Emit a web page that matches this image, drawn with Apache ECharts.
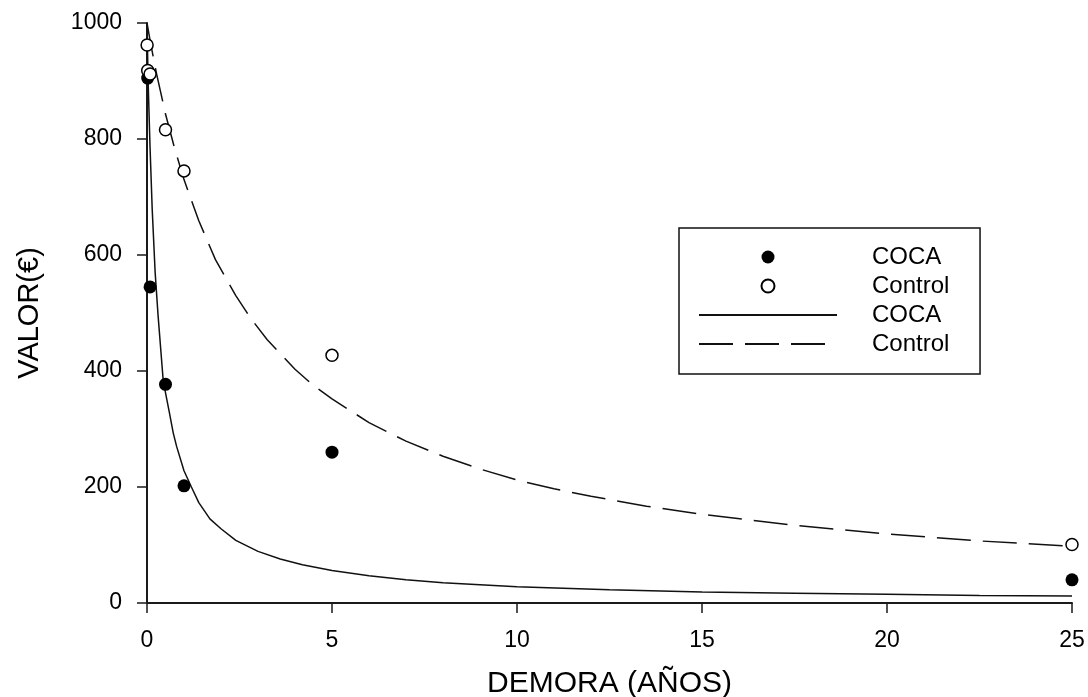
<!DOCTYPE html>
<html>
<head>
<meta charset="utf-8">
<title>Valor vs demora</title>
<script src="https://cdn.jsdelivr.net/npm/echarts@6/dist/echarts.min.js"></script>
<style>
  html, body { margin: 0; padding: 0; background: #fff; }
  #chart { width: 1088px; height: 697px; }
</style>
</head>
<body>
<div id="chart"></div>
<script>
// observed points (delay in years, value in euros)
const cocaX = [0.019, 0.083, 0.5, 1, 5, 25];
const cocaY = [905, 545, 377, 202, 260, 40];
const controlX = [0.003, 0.019, 0.083, 0.5, 1, 5, 25];
const controlY = [962, 918, 912, 816, 745, 427, 101];

// fitted curves
const cocaFitX = [0, 0.03, 0.08, 0.14, 0.22, 0.3, 0.44, 0.6, 0.71, 0.8, 1.0, 1.2, 1.4, 1.7, 2.0, 2.4, 3.0, 3.6, 4.2, 5, 6, 7, 8, 10, 12.5, 15, 17.5, 20, 22.5, 25];
const cocaFitY = [1000, 900, 790, 680, 570, 495, 382, 330, 293, 270, 228, 200, 173, 145, 128, 108, 89, 76, 66, 56, 47, 40, 35, 28, 23, 19, 17, 15, 13, 12];
const controlFitX = [0, 0.1, 0.25, 0.5, 0.75, 1.0, 1.4, 1.85, 2.4, 2.8, 3.25, 4, 4.5, 5, 6, 7, 8, 9, 10, 11, 12, 13.5, 15, 17.5, 20, 22.5, 25];
const controlFitY = [1000, 964, 915, 843, 783, 730, 659, 592, 530, 491, 454, 403, 375, 352, 311, 279, 253, 231, 212, 197, 184, 167, 153, 134, 119, 107, 98];

const xTicks = { min: 0, max: 25, interval: 5 };
const yTicks = { min: 0, max: 1000, interval: 200 };

const pairs = (xs, ys) => xs.map((x, i) => [x, ys[i]]);

const FONT = '"Liberation Sans", Arial, sans-serif';
const axisColor = '#1a1a1a';
// line series draw a dot in their legend icon when symbol is 'none'; hide it
const noDot = { color: 'rgba(0,0,0,0)', borderColor: 'rgba(0,0,0,0)', borderWidth: 0 };

const myChart = echarts.init(document.getElementById('chart'), null, { renderer: 'canvas' });

const option = {
  animation: false,
  backgroundColor: '#fff',
  textStyle: { fontFamily: FONT, color: '#000' },
  grid: { left: 147, right: 16, top: 23, bottom: 94, containLabel: false, outerBoundsMode: 'none' },
  xAxis: {
    type: 'value',
    min: xTicks.min,
    max: xTicks.max,
    interval: xTicks.interval,
    name: 'DEMORA (AÑOS)',
    nameLocation: 'middle',
    nameGap: 66,
    nameTextStyle: { fontFamily: FONT, fontSize: 30, color: '#000' },
    axisLine: { onZero: false, lineStyle: { color: axisColor, width: 2 } },
    axisTick: { inside: false, length: 10, lineStyle: { color: axisColor, width: 1.5 } },
    axisLabel: { margin: 26, fontFamily: FONT, fontSize: 23, color: '#000' },
    splitLine: { show: false }
  },
  yAxis: {
    type: 'value',
    min: yTicks.min,
    max: yTicks.max,
    interval: yTicks.interval,
    name: 'VALOR(€)',
    nameLocation: 'middle',
    nameGap: 103,
    nameTextStyle: { fontFamily: FONT, fontSize: 29, color: '#000' },
    axisLine: { show: true, onZero: false, lineStyle: { color: axisColor, width: 2 } },
    axisTick: { show: true, inside: false, length: 10, lineStyle: { color: axisColor, width: 1.5 } },
    axisLabel: { margin: 25, fontFamily: FONT, fontSize: 23, color: '#000', formatter: v => String(v) },
    splitLine: { show: false }
  },
  legend: {
    orient: 'vertical',
    left: 679,
    top: 228,
    padding: [17, 24, 18, 19],
    itemGap: 5,
    itemWidth: 138,
    itemHeight: 13,
    borderColor: '#111',
    borderWidth: 1.5,
    selectedMode: false,
    data: [
      { name: 'COCA' },
      { name: 'Control' },
      { name: 'COCA ', itemStyle: noDot },
      { name: 'Control ', itemStyle: noDot }
    ],
    textStyle: { fontFamily: FONT, fontSize: 24, lineHeight: 24, color: '#000', padding: [0, 0, 0, 30] }
  },
  series: [
    {
      name: 'COCA ',
      type: 'line',
      data: pairs(cocaFitX, cocaFitY),
      symbol: 'none',
      smooth: false,
      lineStyle: { color: '#111', width: 1.5 },
      itemStyle: { color: '#111' },
      z: 2
    },
    {
      name: 'Control ',
      type: 'line',
      data: pairs(controlFitX, controlFitY),
      symbol: 'none',
      smooth: false,
      lineStyle: { color: '#111', width: 1.5, type: [34, 12] },
      itemStyle: { color: '#111' },
      z: 2
    },
    {
      name: 'COCA',
      type: 'scatter',
      data: pairs(cocaX, cocaY),
      symbol: 'circle',
      symbolSize: 13,
      itemStyle: { color: '#000', opacity: 1 },
      z: 3
    },
    {
      name: 'Control',
      type: 'scatter',
      data: pairs(controlX, controlY),
      symbol: 'circle',
      symbolSize: 12,
      itemStyle: { color: '#fff', borderColor: '#000', borderWidth: 1.5, opacity: 1 },
      z: 3
    }
  ]
};

myChart.setOption(option);
</script>
</body>
</html>
